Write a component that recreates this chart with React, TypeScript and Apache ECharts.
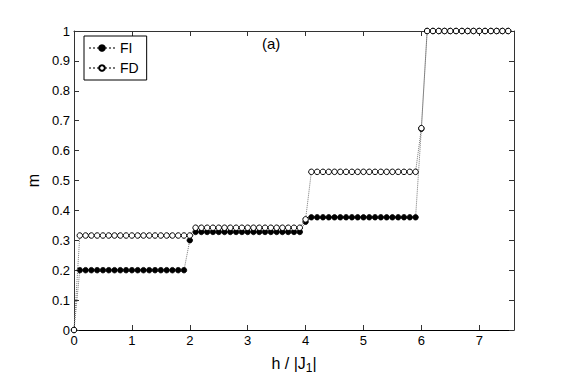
import React, { useEffect, useRef } from "react";
import * as echarts from "echarts";

const hValues = [
  0.0, 0.1, 0.2, 0.3, 0.4, 0.5, 0.6, 0.7, 0.8, 0.9,
  1.0, 1.1, 1.2, 1.3, 1.4, 1.5, 1.6, 1.7, 1.8, 1.9,
  2.0, 2.1, 2.2, 2.3, 2.4, 2.5, 2.6, 2.7, 2.8, 2.9,
  3.0, 3.1, 3.2, 3.3, 3.4, 3.5, 3.6, 3.7, 3.8, 3.9,
  4.0, 4.1, 4.2, 4.3, 4.4, 4.5, 4.6, 4.7, 4.8, 4.9,
  5.0, 5.1, 5.2, 5.3, 5.4, 5.5, 5.6, 5.7, 5.8, 5.9,
  6.0, 6.1, 6.2, 6.3, 6.4, 6.5, 6.6, 6.7, 6.8, 6.9,
  7.0, 7.1, 7.2, 7.3, 7.4, 7.5,
];

const fiValues = [
  0, 0.2, 0.2, 0.2, 0.2, 0.2, 0.2, 0.2, 0.2, 0.2,
  0.2, 0.2, 0.2, 0.2, 0.2, 0.2, 0.2, 0.2, 0.2, 0.2,
  0.3, 0.328, 0.328, 0.328, 0.328, 0.328, 0.328, 0.328, 0.328, 0.328,
  0.328, 0.328, 0.328, 0.328, 0.328, 0.328, 0.328, 0.328, 0.328, 0.328,
  0.362, 0.377, 0.377, 0.377, 0.377, 0.377, 0.377, 0.377, 0.377, 0.377,
  0.377, 0.377, 0.377, 0.377, 0.377, 0.377, 0.377, 0.377, 0.377, 0.377,
  0.673, 1, 1, 1, 1, 1, 1, 1, 1, 1,
  1, 1, 1, 1, 1, 1,
];

const fdValues = [
  0, 0.316, 0.316, 0.316, 0.316, 0.316, 0.316, 0.316, 0.316, 0.316,
  0.316, 0.316, 0.316, 0.316, 0.316, 0.316, 0.316, 0.316, 0.316, 0.316,
  0.316, 0.342, 0.342, 0.342, 0.342, 0.342, 0.342, 0.342, 0.342, 0.342,
  0.342, 0.342, 0.342, 0.342, 0.342, 0.342, 0.342, 0.342, 0.342, 0.342,
  0.37, 0.529, 0.529, 0.529, 0.529, 0.529, 0.529, 0.529, 0.529, 0.529,
  0.529, 0.529, 0.529, 0.529, 0.529, 0.529, 0.529, 0.529, 0.529, 0.529,
  0.675, 1, 1, 1, 1, 1, 1, 1, 1, 1,
  1, 1, 1, 1, 1, 1,
];

const seriesNames = ["FI", "FD"];
const xTickLabels = ["0", "1", "2", "3", "4", "5", "6", "7"];
const yTickLabels = ["0", "0.1", "0.2", "0.3", "0.4", "0.5", "0.6", "0.7", "0.8", "0.9", "1"];
const panelLabel = "(a)";

const FONT = "'Liberation Sans', Arial, Helvetica, sans-serif";

export default function App() {
  const ref = useRef<HTMLDivElement>(null);

  useEffect(() => {
    if (!ref.current) return;
    const chart = echarts.init(ref.current, undefined, { renderer: "svg" });

    const fiData = hValues.map((h, i) => [h, fiValues[i]]);
    const fdData = hValues.map((h, i) => [h, fdValues[i]]);

    const axisColor = "#333";

    const option: any = {
      animation: false,
      backgroundColor: "#fff",
      textStyle: { fontFamily: FONT },
      grid: { left: 74, right: 54, top: 31, bottom: 39, containLabel: false },
      legend: {
        left: 84,
        top: 36,
        orient: "vertical",
        backgroundColor: "#fff",
        borderColor: "#000",
        borderWidth: 1,
        borderRadius: 0,
        padding: [5, 8, 5, 4],
        itemGap: 6,
        itemWidth: 26,
        itemHeight: 7,
        textStyle: { fontFamily: FONT, fontSize: 14, color: "#000" },
        data: seriesNames,
      },
      xAxis: [
        {
          type: "value",
          min: 0,
          max: 7.6,
          interval: 1,
          position: "bottom",
          axisLine: { show: true, onZero: false, lineStyle: { color: "#000", width: 1 } },
          axisTick: { show: true, inside: true, length: 5, lineStyle: { color: axisColor } },
          axisLabel: {
            show: true,
            fontFamily: FONT,
            fontSize: 13,
            color: "#000",
            margin: 4,
            showMaxLabel: false,
            formatter: (v: number) => {
              const idx = Math.round(v);
              return Math.abs(v - idx) < 1e-6 && idx < xTickLabels.length ? xTickLabels[idx] : "";
            },
          },
          splitLine: { show: false },
          name: "h / |J{sub|1}|",
          nameLocation: "middle",
          nameGap: 22,
          nameTextStyle: {
            fontFamily: FONT,
            fontSize: 16,
            color: "#000",
            rich: {
              sub: { fontFamily: FONT, fontSize: 12, color: "#000", verticalAlign: "bottom", padding: [10, 0, 0, 0] },
            },
          },
        },
        {
          type: "value",
          min: 0,
          max: 7.6,
          interval: 1,
          position: "top",
          axisLine: { show: true, onZero: false, lineStyle: { color: axisColor, width: 1 } },
          axisTick: { show: true, inside: true, length: 5, lineStyle: { color: axisColor } },
          axisLabel: { show: false },
          splitLine: { show: false },
        },
      ],
      yAxis: [
        {
          type: "value",
          min: 0,
          max: 1,
          interval: 0.1,
          position: "left",
          axisLine: { show: true, onZero: false, lineStyle: { color: axisColor, width: 1 } },
          axisTick: { show: true, inside: true, length: 5, lineStyle: { color: axisColor } },
          axisLabel: {
            show: true,
            fontFamily: FONT,
            fontSize: 13,
            color: "#000",
            margin: 4,
            formatter: (v: number) => {
              const idx = Math.round(v * 10);
              return idx >= 0 && idx < yTickLabels.length ? yTickLabels[idx] : "";
            },
          },
          splitLine: { show: false },
          name: "m",
          nameLocation: "middle",
          nameGap: 20,
          nameRotate: 90,
          nameTextStyle: { fontFamily: FONT, fontSize: 16, color: "#000" },
        },
        {
          type: "value",
          min: 0,
          max: 1,
          interval: 0.1,
          position: "right",
          axisLine: { show: true, onZero: false, lineStyle: { color: axisColor, width: 1 } },
          axisTick: { show: true, inside: true, length: 5, lineStyle: { color: axisColor } },
          axisLabel: { show: false },
          splitLine: { show: false },
        },
      ],
      series: [
        {
          name: seriesNames[0],
          type: "line",
          data: fiData,
          xAxisIndex: 0,
          yAxisIndex: 0,
          symbol: "circle",
          symbolSize: 5.5,
          showAllSymbol: true,
          lineStyle: { type: "dotted", color: "#777", width: 1 },
          itemStyle: { color: "#000", borderColor: "#000", borderWidth: 0.8 },
          z: 2,
        },
        {
          name: seriesNames[1],
          type: "line",
          data: fdData,
          xAxisIndex: 0,
          yAxisIndex: 0,
          symbol: "circle",
          symbolSize: 5.5,
          showAllSymbol: true,
          lineStyle: { type: "dotted", color: "#777", width: 1 },
          itemStyle: { color: "#fff", borderColor: "#000", borderWidth: 1 },
          z: 3,
        },
      ],
      graphic: [
        {
          type: "text",
          left: 262,
          top: 36,
          style: { text: panelLabel, font: `15px ${FONT}`, fill: "#000" },
        },
      ],
    };

    chart.setOption(option);
    return () => chart.dispose();
  }, []);

  return (
    <div
      ref={ref}
      style={{ position: "fixed", left: 0, top: 0, width: 568, height: 379 }}
    />
  );
}
